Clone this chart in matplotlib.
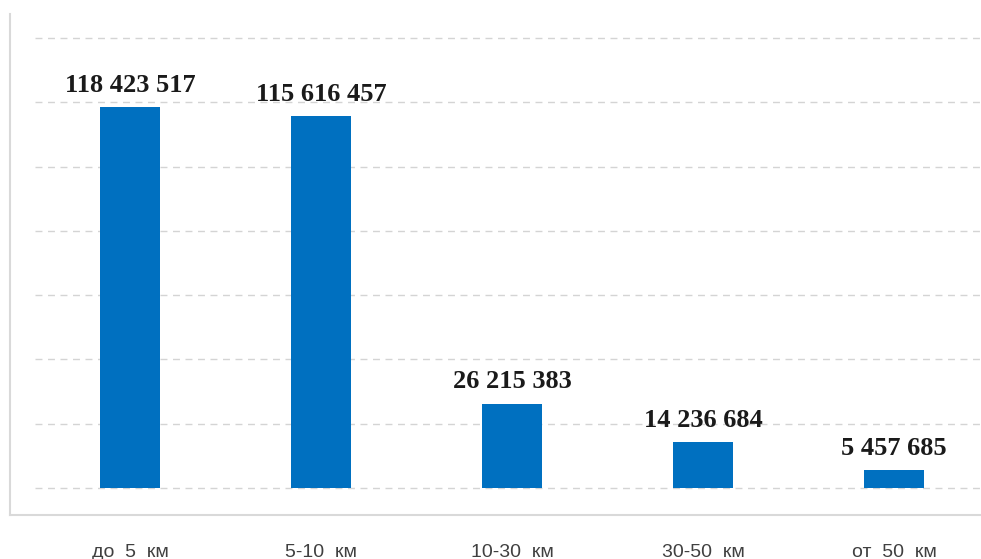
import matplotlib.pyplot as plt
from matplotlib.lines import Line2D
from matplotlib.ticker import MultipleLocator

categories = ['до  5  км', '5-10  км', '10-30  км', '30-50  км', 'от  50  км']
values = [118423517, 115616457, 26215383, 14236684, 5457685]


def fmt(v):
    # thousands separated by spaces
    return '{:,}'.format(v).replace(',', ' ')


W, H = 981, 559
fig = plt.figure(figsize=(W / 100, H / 100), dpi=100)
ax = fig.add_axes([34.5 / W, (H - 488) / H, (W - 34.5) / W, 450 / H])

x = list(range(len(categories)))
ax.bar(x, values, width=0.314, color='#0070C0', zorder=3)

for xi, v in zip(x, values):
    ax.annotate(fmt(v), (xi, v), xytext=(0, 7.5), textcoords='offset points',
                ha='center', va='bottom', fontsize=19, fontweight='bold',
                family='Liberation Serif', color='#1a1a1a')

ax.set_xlim(-0.5, 4.455)
ax.set_ylim(0, 140e6)
ax.yaxis.set_major_locator(MultipleLocator(20e6))
ax.grid(axis='y', color='#d4d4d4', linestyle=(0, (5, 4)), linewidth=1, zorder=0)
ax.set_axisbelow(True)
for gl in ax.get_ygridlines():
    gl.set_clip_on(False)

ax.set_xticks(x)
ax.set_xticklabels(categories, fontsize=14, family='Liberation Sans', color='#404040')
ax.tick_params(axis='x', length=0, pad=40)
ax.tick_params(axis='y', left=False, labelleft=False)
for s in ax.spines.values():
    s.set_visible(False)

# chart frame (left and bottom edges)
fig.add_artist(Line2D([10 / W, 10 / W], [(H - 515) / H, (H - 14) / H],
                      transform=fig.transFigure, color='#d9d9d9', linewidth=1.5))
fig.add_artist(Line2D([10 / W, 1], [(H - 515) / H, (H - 515) / H],
                      transform=fig.transFigure, color='#d9d9d9', linewidth=1.5))

plt.savefig('out.png', dpi=100)
